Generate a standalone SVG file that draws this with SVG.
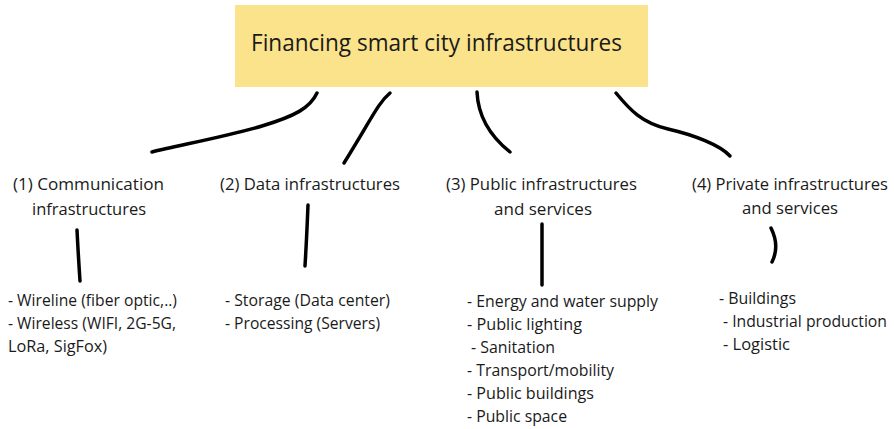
<svg xmlns="http://www.w3.org/2000/svg" width="894" height="429" viewBox="0 0 894 429">
<style>
text{font-family:"Open Sans","Noto Sans","DejaVu Sans",sans-serif;fill:#1a1a1a}
.t{font-size:23px}
.c{font-size:17px}
.l{font-size:15.5px}
.k{fill:none;stroke:#000;stroke-width:3.5;stroke-linecap:round;stroke-linejoin:round}
</style>
<rect width="894" height="429" fill="#fff"/>
<g id="root">
<rect x="235" y="5" width="413" height="82" fill="#FBE38B"/>
<text class="t" x="251" y="51" textLength="371" lengthAdjust="spacingAndGlyphs">Financing smart city infrastructures</text>
</g>
<g id="connectors">
<path class="k" d="M317,93 C310,108 295,116 262,126 S175,146 152,152"/>
<path class="k" d="M390,93 C378,103 372,118 344,163"/>
<path class="k" d="M477,92 C478,115 490,136 510,152"/>
<path class="k" d="M616,93 C630,110 642,123 668,129 S720,145 730,156"/>
<path class="k" d="M77,230 C78,250 79,266 80,281"/>
<path class="k" d="M308,205 C307,230 306,250 305,266"/>
<path class="k" d="M542,224 L542,285"/>
<path class="k" d="M771,228 C777,240 777,252 772,262"/>
</g>
<g id="n1">
<text class="c" x="13" y="190" textLength="151" lengthAdjust="spacingAndGlyphs">(1) Communication</text>
<text class="c" x="32" y="215" textLength="114" lengthAdjust="spacingAndGlyphs">infrastructures</text>
</g>
<g id="n2">
<text class="c" x="220" y="190" textLength="180" lengthAdjust="spacingAndGlyphs">(2) Data infrastructures</text>
</g>
<g id="n3">
<text class="c" x="446" y="190" textLength="191" lengthAdjust="spacingAndGlyphs">(3) Public infrastructures</text>
<text class="c" x="494" y="215" textLength="98" lengthAdjust="spacingAndGlyphs">and services</text>
</g>
<g id="n4">
<text class="c" x="692" y="190" textLength="196" lengthAdjust="spacingAndGlyphs">(4) Private infrastructures</text>
<text class="c" x="742" y="214" textLength="96" lengthAdjust="spacingAndGlyphs">and services</text>
</g>
<g id="l1">
<text class="l" x="8" y="306" textLength="169" lengthAdjust="spacingAndGlyphs">- Wireline (fiber optic,..)</text>
<text class="l" x="8" y="329" textLength="168" lengthAdjust="spacingAndGlyphs">- Wireless (WIFI, 2G-5G,</text>
<text class="l" x="8" y="352" textLength="99" lengthAdjust="spacingAndGlyphs">LoRa, SigFox)</text>
</g>
<g id="l2">
<text class="l" x="225" y="306" textLength="165" lengthAdjust="spacingAndGlyphs">- Storage (Data center)</text>
<text class="l" x="225" y="329" textLength="155" lengthAdjust="spacingAndGlyphs">- Processing (Servers)</text>
</g>
<g id="l3">
<text class="l" x="467" y="307" textLength="191" lengthAdjust="spacingAndGlyphs">- Energy and water supply</text>
<text class="l" x="467" y="330" textLength="115" lengthAdjust="spacingAndGlyphs">- Public lighting</text>
<text class="l" x="471" y="353" textLength="84" lengthAdjust="spacingAndGlyphs">- Sanitation</text>
<text class="l" x="467" y="376" textLength="147" lengthAdjust="spacingAndGlyphs">- Transport/mobility</text>
<text class="l" x="467" y="399" textLength="127" lengthAdjust="spacingAndGlyphs">- Public buildings</text>
<text class="l" x="467" y="422" textLength="100" lengthAdjust="spacingAndGlyphs">- Public space</text>
</g>
<g id="l4">
<text class="l" x="719" y="304" textLength="77" lengthAdjust="spacingAndGlyphs">- Buildings</text>
<text class="l" x="723" y="327" textLength="164" lengthAdjust="spacingAndGlyphs">- Industrial production</text>
<text class="l" x="723" y="350" textLength="67" lengthAdjust="spacingAndGlyphs">- Logistic</text>
</g>
</svg>
